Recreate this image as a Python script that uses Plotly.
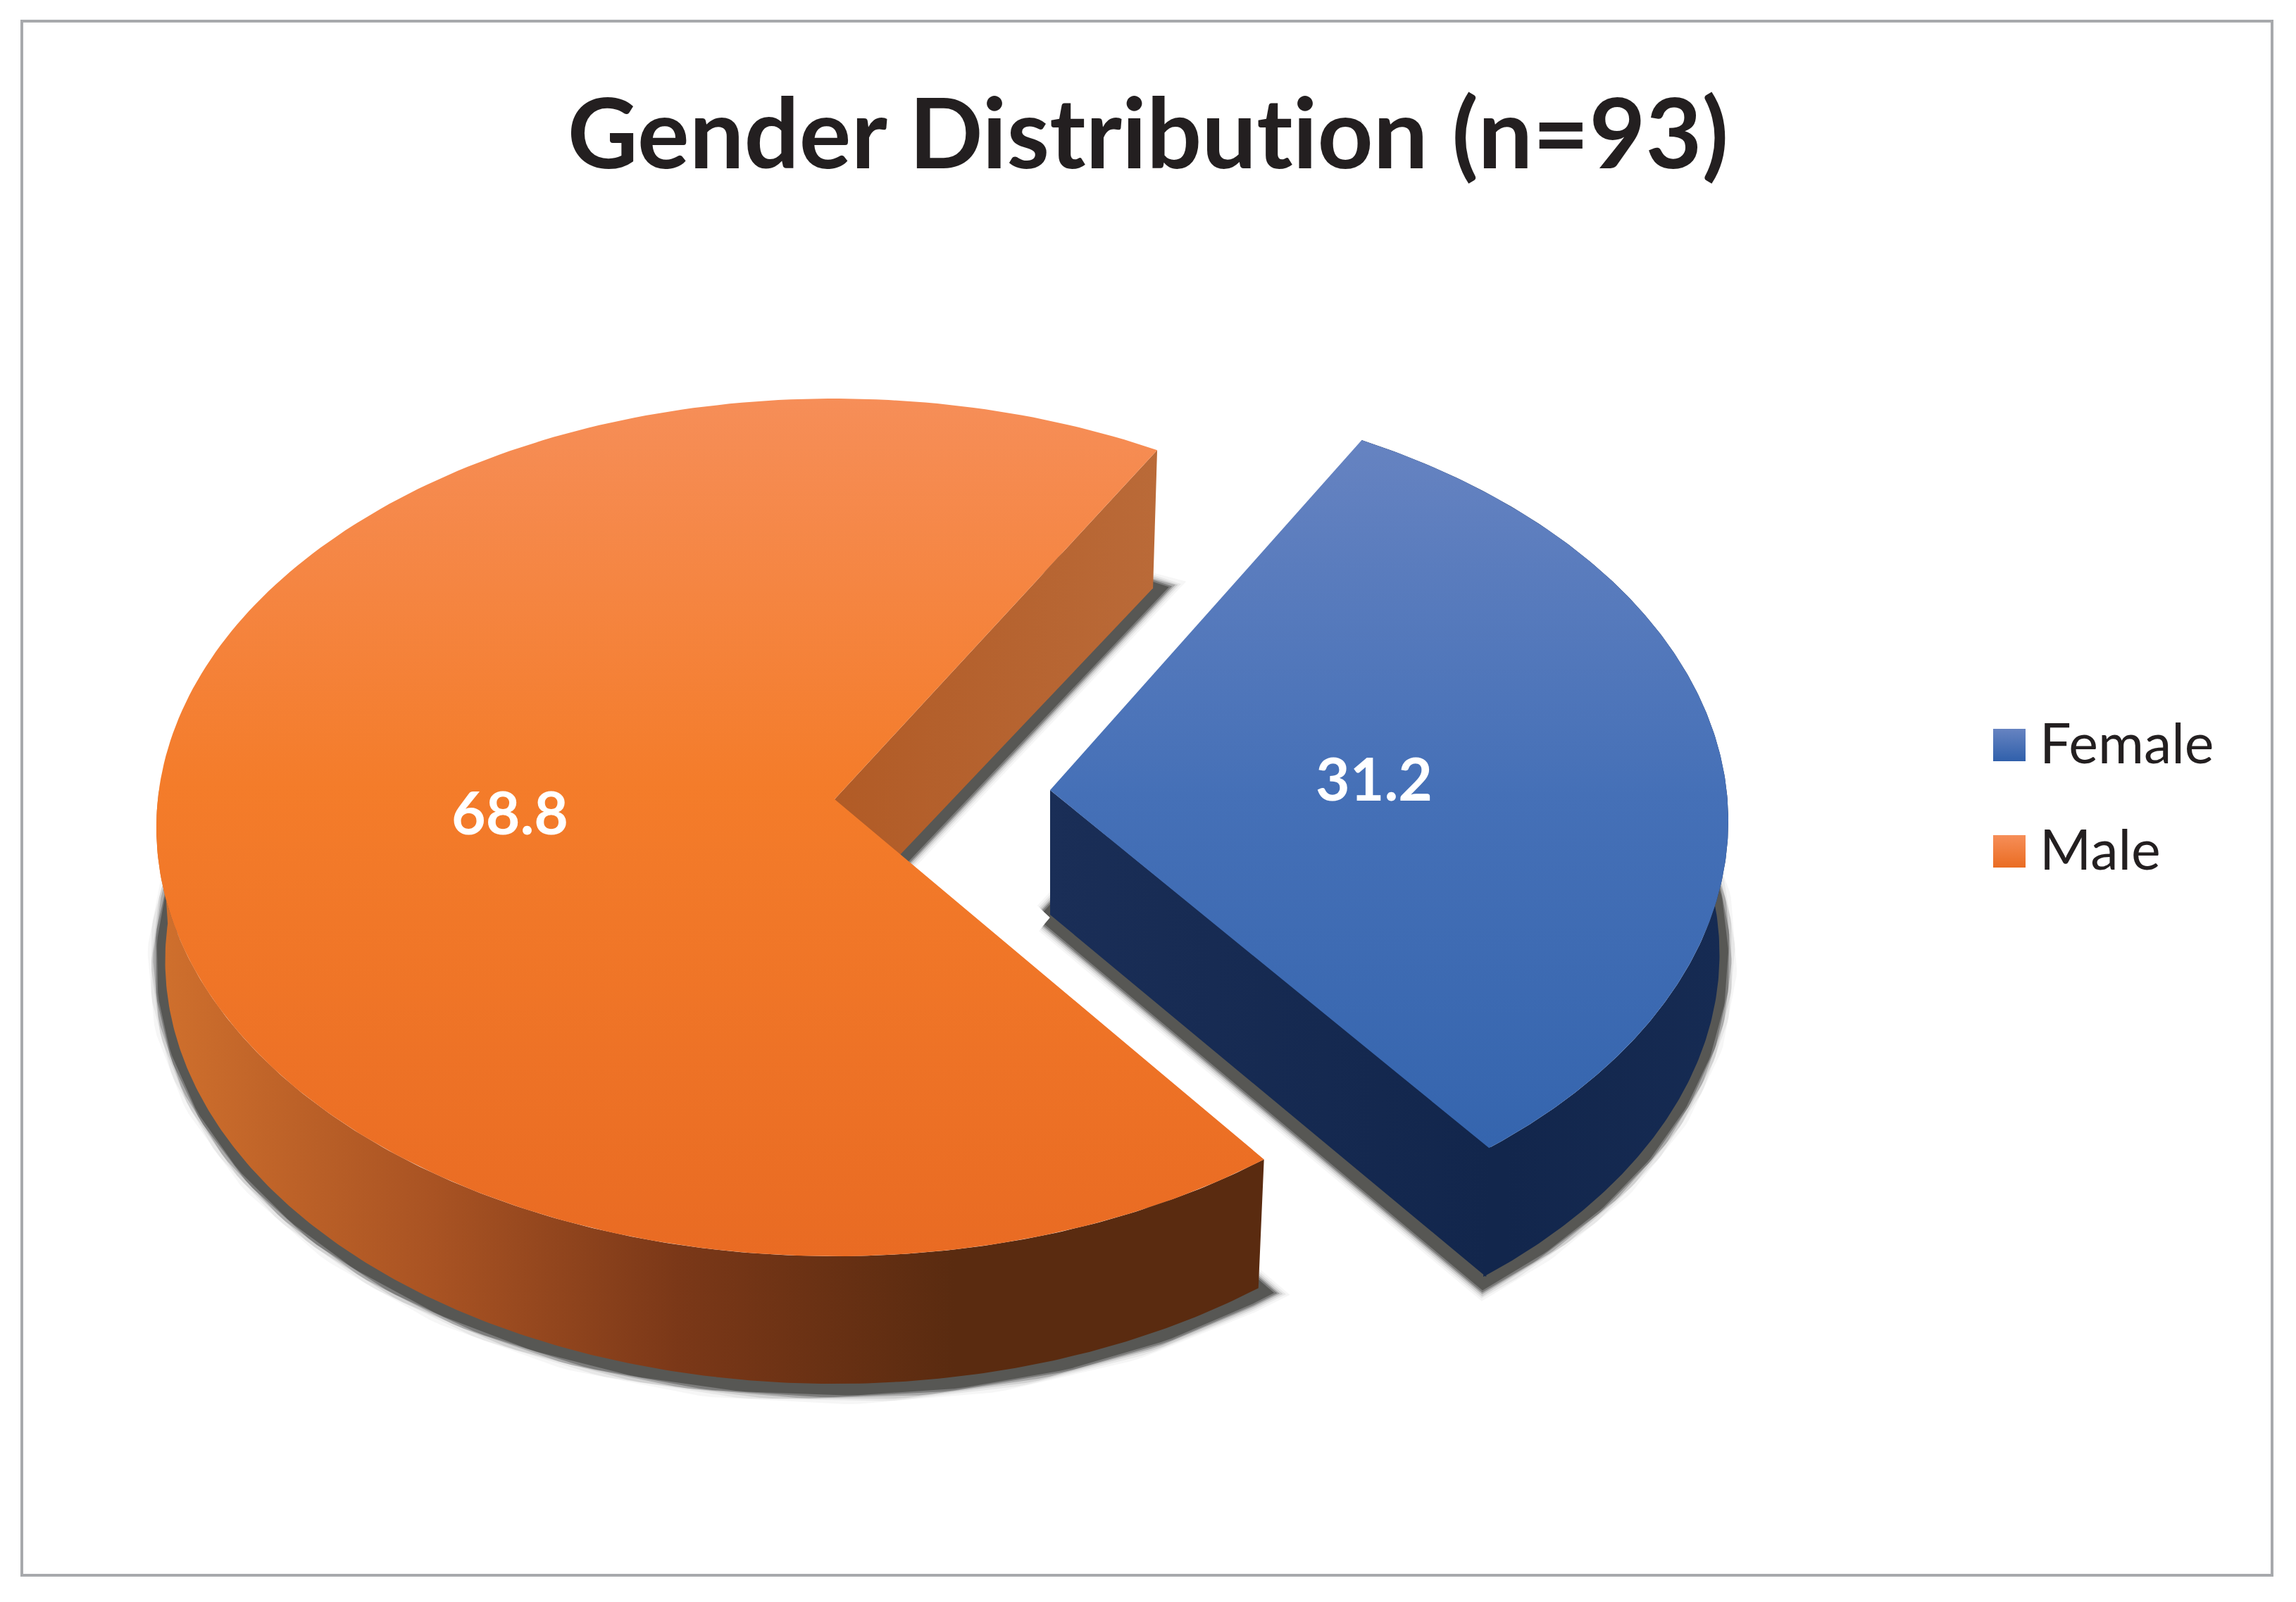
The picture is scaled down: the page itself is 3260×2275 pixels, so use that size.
import numpy as np
import plotly.graph_objects as go

# ---- data ----
categories = ["Female", "Male"]
values = [31.2, 68.8]
title_text = "Gender Distribution (n=93)"

# ---- pie geometry / style (pixel-scaled axes) ----
W, H = 3260, 2275
START_DEG = 27.5
ROTATION = {"Female": -0.15, "Male": 0.9}
RX, RY = 963, 609
CENTERS = {"Male": (1185, 1175), "Female": (1491, 1166)}
APEX_DY = {"Male": -40, "Female": -44}
BASE_DY = 189
BASE_SCALE = 0.987
APEX_DEPTH = 177
WALL_OVERLAP = {"Male": 0, "Female": 4}

TOP_GRAD = {
    "Female": [[0, "#3565ae"], [0.5, "#4570b7"], [1, "#6683c1"]],
    "Male": [[0, "#e96b23"], [0.55, "#f47c2a"], [1, "#f68e58"]],
}
OUTER_GRAD = {
    "Female": [[0, "#12264c"], [0.4, "#12264c"], [1, "#162b53"]],
    "Male": [[0, "#d0702d"], [0.25, "#a95323"], [0.47, "#7b3818"], [0.72, "#5a2b10"], [1, "#5a2b10"]],
}
INNER_GRAD = {
    "Female": [[0, "#1a2e57"], [1, "#12264c"]],
    "Male": [[0, "#b15b26"], [1, "#ba6a38"]],
}
LEGEND_COL = {"Female": ("#6683c1", "#3060ab"), "Male": ("#f68e58", "#ea6c22")}
LABEL_POS = {"Female": (1951, 1116), "Male": (724, 1164)}
LEGEND_Y = {"Female": 1058, "Male": 1209}

# slice angles derived from the values
angles = {}
a0 = START_DEG
for c, v in zip(categories, values):
    a1 = a0 + v / sum(values) * 360
    angles[c] = (a0 + ROTATION[c], a1 + ROTATION[c])
    a0 = a1


def arc(c, a, b, lower=False, n=240):
    cx, cy = CENTERS[c]
    t = np.radians(np.linspace(a, b, n))
    k = BASE_SCALE if lower else 1.0
    dy = BASE_DY if lower else 0
    return cx + RX * k * np.sin(t), cy + dy - RY * k * np.cos(t)


def apex(c, lower=False):
    cx, cy = CENTERS[c]
    return cx, cy + APEX_DY[c] + (APEX_DEPTH if lower else 0)


fig = go.Figure()
NOLINE = dict(width=0, color="rgba(0,0,0,0)")


def poly(x, y, **kw):
    fig.add_trace(go.Scatter(x=list(x), y=list(y), mode="lines", fill="toself",
                             hoverinfo="skip", showlegend=False, line=NOLINE, **kw))


# shadows: stacked soft outlines of the slice bases
for c in categories:
    a, b = angles[c]
    xs, ys = arc(c, a, b, lower=True)
    ax, ay = apex(c, lower=True)
    X = np.r_[ax, xs, ax]
    Y = np.r_[ay, ys, ay] + 4
    for w, alpha in zip([50, 44, 39, 34, 30, 25], [0.05, 0.08, 0.15, 0.3, 0.5, 0.85]):
        fig.add_trace(go.Scatter(x=X, y=Y, mode="lines", hoverinfo="skip", showlegend=False,
                                 line=dict(color=f"rgba(80,80,78,{alpha})", width=w)))

# side walls and tops
for c in ["Male", "Female"]:
    a, b = angles[c]
    # cut face joining the apex to the far corner
    tx, ty = arc(c, b, b, n=1)
    lx, ly = arc(c, b, b, lower=True, n=1)
    ax0, ay0 = apex(c)
    ax1, ay1 = apex(c, lower=True)
    ov = WALL_OVERLAP[c]
    poly([ax0, tx[0] + ov, lx[0] + ov, ax1, ax0], [ay0, ty[0], ly[0], ay1, ay0],
         fillgradient=dict(type="horizontal", colorscale=INNER_GRAD[c]))
    # outer rim
    e = min(b, 275)
    x1, y1 = arc(c, a, e)
    x2, y2 = arc(c, a, e, lower=True)
    poly(np.r_[x1, x2[::-1], x1[0]], np.r_[y1, y2[::-1], y1[0]],
         fillgradient=dict(type="horizontal", colorscale=OUTER_GRAD[c]))
    # top face
    xs, ys = arc(c, a, b)
    poly(np.r_[ax0, xs, ax0], np.r_[ay0, ys, ay0], name=c,
         fillgradient=dict(type="vertical", colorscale=TOP_GRAD[c]))

# value labels
for c, v in zip(categories, values):
    fig.add_trace(go.Scatter(x=[LABEL_POS[c][0]], y=[LABEL_POS[c][1]], mode="text",
                             text=[f"{v:.1f}"], textposition="middle center", showlegend=False,
                             hoverinfo="skip",
                             textfont=dict(family="Lato", size=84, color="white", weight=700)))

# legend
for c in categories:
    top, bottom = LEGEND_COL[c]
    fig.add_trace(go.Scatter(x=[2853], y=[LEGEND_Y[c]], mode="markers", showlegend=False, hoverinfo="skip",
                             marker=dict(symbol="square", size=46, color=top,
                                         gradient=dict(type="vertical", color=bottom),
                                         line=dict(width=0))))
    fig.add_trace(go.Scatter(x=[2896], y=[LEGEND_Y[c] + 6], mode="text", text=[c], showlegend=False,
                             hoverinfo="skip", textposition="middle right",
                             textfont=dict(family="Lato", size=79, color="#231f20")))

fig.update_layout(
    width=W, height=H, autosize=False,
    margin=dict(l=0, r=0, t=0, b=0),
    paper_bgcolor="white", plot_bgcolor="white",
    showlegend=False,
    title=dict(text=title_text, x=0.5, xanchor="center", y=0.916, yanchor="middle",
               font=dict(family="Lato", size=138, color="#231f20", weight=700)),
    xaxis=dict(range=[0, W], visible=False, fixedrange=True),
    yaxis=dict(range=[H, 0], visible=False, fixedrange=True),
    shapes=[dict(type="rect", x0=31, x1=3226, y0=30, y1=2237,
                 line=dict(color="#a7a9ac", width=4), fillcolor="rgba(0,0,0,0)")],
)
fig.write_html(
    "out.html",
    config={"displayModeBar": False},
    post_script=(
        "document.body.style.margin='0';"
        "var s=document.createElement('style');"
        "s.textContent='text{font-variant-ligatures:none !important;"
        "font-feature-settings:\"liga\" 0,\"clig\" 0 !important}';"
        "document.head.appendChild(s);"
    ),
)
